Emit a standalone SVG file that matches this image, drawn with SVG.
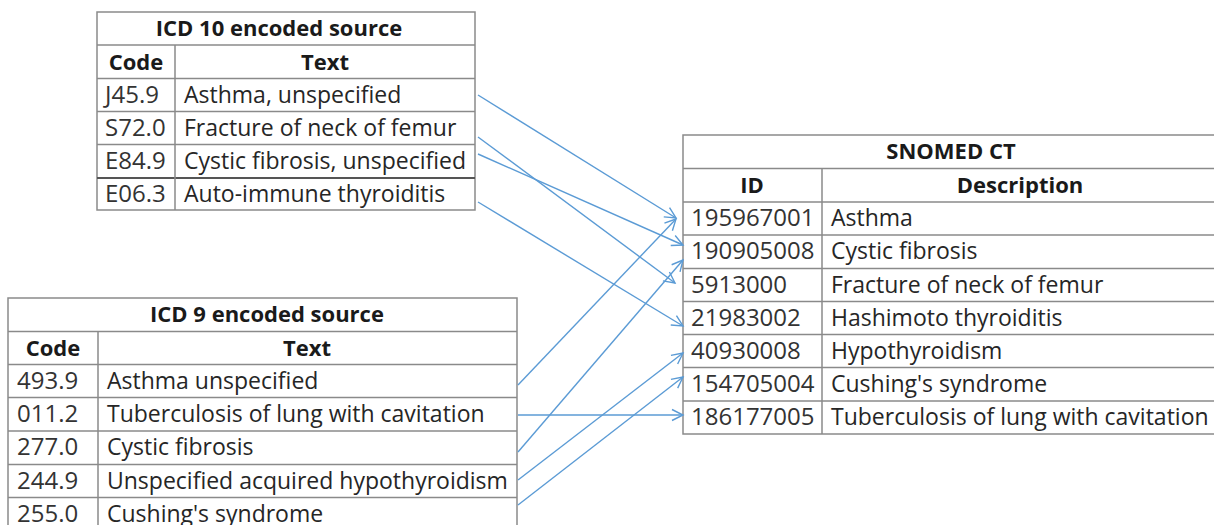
<svg xmlns="http://www.w3.org/2000/svg" width="1214" height="525" viewBox="0 0 1214 525">
<style>
text{font-family:"Open Sans","Noto Sans","Liberation Sans",sans-serif;font-size:23px;fill:#262626}
.h{font-weight:bold;font-size:22px;text-anchor:middle;fill:#1a1a1a}
.c{fill:#333333;font-size:24px}
.grid{stroke:#8a8a8a;stroke-width:1.5;fill:none}
.dark{stroke:#555555;stroke-width:2.2}
.conn line{stroke:#5b9bd5;stroke-width:1.4;fill:none;marker-end:url(#arr)}
</style>
<defs>
<marker id="arr" markerUnits="userSpaceOnUse" markerWidth="16" markerHeight="16" refX="12" refY="7" orient="auto">
<path d="M1,1.5 L12,7 L1,12.5" fill="none" stroke="#5b9bd5" stroke-width="1.4"/>
</marker>
</defs>
<rect x="0" y="0" width="1214" height="525" fill="#ffffff"/>

<g id="icd10">
<rect class="grid" x="97" y="12" width="378" height="198"/>
<line class="grid" x1="97" y1="45" x2="475" y2="45"/>
<line class="grid" x1="97" y1="78.5" x2="475" y2="78.5"/>
<line class="grid" x1="97" y1="111.5" x2="475" y2="111.5"/>
<line class="grid" x1="97" y1="144.5" x2="475" y2="144.5"/>
<line class="grid dark" x1="97" y1="178" x2="475" y2="178"/>
<line class="grid" x1="175" y1="45" x2="175" y2="210"/>
<text class="h" x="279" y="36">ICD 10 encoded source</text>
<text class="h" x="136" y="70">Code</text>
<text class="h" x="325" y="70">Text</text>
<g id="icd10-j459"><text class="c" x="105" y="103">J45.9</text><text x="184" y="103">Asthma, unspecified</text></g>
<g id="icd10-s720"><text class="c" x="105" y="136">S72.0</text><text x="184" y="136">Fracture of neck of femur</text></g>
<g id="icd10-e849"><text class="c" x="105" y="169">E84.9</text><text x="184" y="169">Cystic fibrosis, unspecified</text></g>
<g id="icd10-e063"><text class="c" x="105" y="202">E06.3</text><text x="184" y="202">Auto-immune thyroiditis</text></g>
</g>

<g id="icd9">
<rect class="grid" x="8" y="298" width="509" height="240"/>
<line class="grid" x1="8" y1="331.5" x2="517" y2="331.5"/>
<line class="grid" x1="8" y1="364.5" x2="517" y2="364.5"/>
<line class="grid" x1="8" y1="397.5" x2="517" y2="397.5"/>
<line class="grid" x1="8" y1="431" x2="517" y2="431"/>
<line class="grid" x1="8" y1="464.5" x2="517" y2="464.5"/>
<line class="grid" x1="8" y1="497.5" x2="517" y2="497.5"/>
<line class="grid" x1="98" y1="331.5" x2="98" y2="538"/>
<text class="h" x="267" y="322">ICD 9 encoded source</text>
<text class="h" x="53" y="356">Code</text>
<text class="h" x="307" y="356">Text</text>
<g id="icd9-4939"><text class="c" x="17" y="389">493.9</text><text x="107" y="389">Asthma unspecified</text></g>
<g id="icd9-0112"><text class="c" x="17" y="422">011.2</text><text x="107" y="422">Tuberculosis of lung with cavitation</text></g>
<g id="icd9-2770"><text class="c" x="17" y="455">277.0</text><text x="107" y="455">Cystic fibrosis</text></g>
<g id="icd9-2449"><text class="c" x="17" y="489">244.9</text><text x="107" y="489">Unspecified acquired hypothyroidism</text></g>
<g id="icd9-2550"><text class="c" x="17" y="522">255.0</text><text x="107" y="522">Cushing's syndrome</text></g>
</g>

<g id="snomed">
<rect class="grid" x="683" y="135" width="540" height="299"/>
<line class="grid" x1="683" y1="168.5" x2="1223" y2="168.5"/>
<line class="grid" x1="683" y1="202" x2="1223" y2="202"/>
<line class="grid" x1="683" y1="235" x2="1223" y2="235"/>
<line class="grid" x1="683" y1="268.5" x2="1223" y2="268.5"/>
<line class="grid" x1="683" y1="301.5" x2="1223" y2="301.5"/>
<line class="grid" x1="683" y1="334.5" x2="1223" y2="334.5"/>
<line class="grid" x1="683" y1="367.5" x2="1223" y2="367.5"/>
<line class="grid" x1="683" y1="401" x2="1223" y2="401"/>
<line class="grid" x1="822" y1="168.5" x2="822" y2="434"/>
<text class="h" x="951" y="159">SNOMED CT</text>
<text class="h" x="752" y="193">ID</text>
<text class="h" x="1020" y="193">Description</text>
<g id="sct-195967001"><text class="c" x="691" y="226">195967001</text><text x="831" y="226">Asthma</text></g>
<g id="sct-190905008"><text class="c" x="691" y="259">190905008</text><text x="831" y="259">Cystic fibrosis</text></g>
<g id="sct-5913000"><text class="c" x="691" y="293">5913000</text><text x="831" y="293">Fracture of neck of femur</text></g>
<g id="sct-21983002"><text class="c" x="691" y="326">21983002</text><text x="831" y="326">Hashimoto thyroiditis</text></g>
<g id="sct-40930008"><text class="c" x="691" y="359">40930008</text><text x="831" y="359">Hypothyroidism</text></g>
<g id="sct-154705004"><text class="c" x="691" y="392">154705004</text><text x="831" y="392">Cushing's syndrome</text></g>
<g id="sct-186177005"><text class="c" x="691" y="425">186177005</text><text x="831" y="425">Tuberculosis of lung with cavitation</text></g>
</g>

<g id="connectors" class="conn">
<line x1="478" y1="95" x2="676" y2="218"/>
<line x1="478" y1="137" x2="675" y2="283"/>
<line x1="478" y1="154" x2="683" y2="245"/>
<line x1="478" y1="202" x2="683" y2="326"/>
<line x1="518" y1="385" x2="676" y2="219"/>
<line x1="518" y1="415" x2="683" y2="415"/>
<line x1="518" y1="452" x2="683" y2="260"/>
<line x1="518" y1="480" x2="683" y2="353"/>
<line x1="518" y1="505" x2="683" y2="377"/>
</g>
</svg>
